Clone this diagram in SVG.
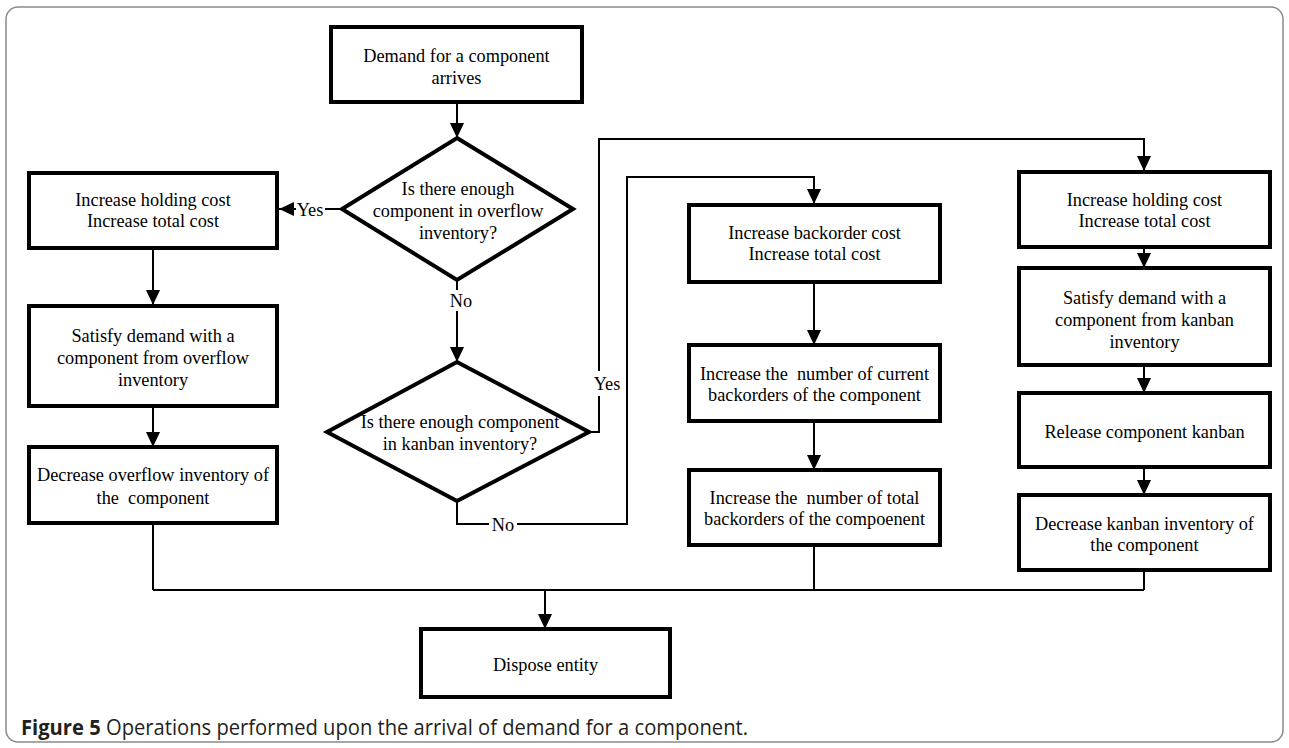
<svg xmlns="http://www.w3.org/2000/svg" width="1289" height="748" viewBox="0 0 1289 748">
<style>
.box{fill:#fff;stroke:#000;stroke-width:4}
.t{font-family:"Liberation Serif","Times New Roman",serif;font-size:19.2px;fill:#000;text-anchor:middle}
.c{fill:none;stroke:#000;stroke-width:2}
.cap{font-family:"Open Sans","Noto Sans",sans-serif;font-size:22px;fill:#231f20}
</style>
<defs>
<marker id="ah" viewBox="0 0 15 14" refX="15" refY="7" markerWidth="15" markerHeight="14" markerUnits="userSpaceOnUse" orient="auto">
<path d="M0,0 L15,7 L0,14 Z" fill="#000"/>
</marker>
</defs>
<rect x="6" y="7" width="1277" height="735" rx="12" ry="12" fill="#fff" stroke="#8a8a8a" stroke-width="1.5"/>

<g id="connectors">
<path class="c" d="M457,102 V138" marker-end="url(#ah)"/>
<path class="c" d="M342,209 H325"/>
<path class="c" d="M296,209 H279" marker-end="url(#ah)"/>
<path class="c" d="M153,248 V305" marker-end="url(#ah)"/>
<path class="c" d="M153,406 V447" marker-end="url(#ah)"/>
<path class="c" d="M153,523 V590"/>
<path class="c" d="M457,280 V290"/>
<path class="c" d="M457,311 V362" marker-end="url(#ah)"/>
<path class="c" d="M589,432 H599 V396"/>
<path class="c" d="M599,371 V139 H1144 V171" marker-end="url(#ah)"/>
<path class="c" d="M457,501 V524 H489"/>
<path class="c" d="M517,524 H627 V177 H814 V204" marker-end="url(#ah)"/>
<path class="c" d="M814,282 V345" marker-end="url(#ah)"/>
<path class="c" d="M814,421 V470" marker-end="url(#ah)"/>
<path class="c" d="M814,545 V590"/>
<path class="c" d="M1144,247 V268" marker-end="url(#ah)"/>
<path class="c" d="M1144,365 V393" marker-end="url(#ah)"/>
<path class="c" d="M1144,467 V495" marker-end="url(#ah)"/>
<path class="c" d="M1144,570 V590"/>
<path class="c" d="M153,590 H1144"/>
<path class="c" d="M545,590 V629" marker-end="url(#ah)"/>
<text class="t" x="310" y="216" transform="matrix(0.953 0 0 1 14.6 0)">Yes</text>
<text class="t" x="461" y="307" transform="matrix(0.953 0 0 1 21.7 0)">No</text>
<text class="t" x="607" y="390" transform="matrix(0.953 0 0 1 28.5 0)">Yes</text>
<text class="t" x="503" y="531" transform="matrix(0.953 0 0 1 23.6 0)">No</text>
</g>

<g id="start">
<rect class="box" x="331" y="27" width="251" height="75"/>
<g transform="matrix(0.953 0 0 1 21.46 0)">
<text class="t" x="456.5" y="62">Demand for a component</text>
<text class="t" x="456.5" y="84">arrives</text>
</g>
</g>

<g id="dec1">
<polygon class="box" points="457,138 573,209 457,280 342,209"/>
<g transform="matrix(0.953 0 0 1 21.53 0)">
<text class="t" x="458" y="195">Is there enough</text>
<text class="t" x="458" y="217">component in overflow</text>
<text class="t" x="458" y="239">inventory?</text>
</g>
</g>

<g id="dec2">
<polygon class="box" points="457,362 589,432 457,501 327,432"/>
<g transform="matrix(0.953 0 0 1 21.62 0)">
<text class="t" x="460" y="428">Is there enough component</text>
<text class="t" x="460" y="450">in kanban inventory?</text>
</g>
</g>

<g id="left1">
<rect class="box" x="29" y="173" width="248" height="75"/>
<g transform="matrix(0.953 0 0 1 7.19 0)">
<text class="t" x="153" y="206">Increase holding cost</text>
<text class="t" x="153" y="227">Increase total cost</text>
</g>
</g>

<g id="left2">
<rect class="box" x="29" y="306" width="248" height="100"/>
<g transform="matrix(0.953 0 0 1 7.19 0)">
<text class="t" x="153" y="342">Satisfy demand with a</text>
<text class="t" x="153" y="364">component from overflow</text>
<text class="t" x="153" y="386">inventory</text>
</g>
</g>

<g id="left3">
<rect class="box" x="29" y="447" width="248" height="76"/>
<g transform="matrix(0.953 0 0 1 7.19 0)">
<text class="t" x="153" y="481">Decrease overflow inventory of</text>
<text class="t" x="153" y="504" xml:space="preserve">the  component</text>
</g>
</g>

<g id="mid1">
<rect class="box" x="689" y="205" width="251" height="77"/>
<g transform="matrix(0.953 0 0 1 38.28 0)">
<text class="t" x="814.5" y="239">Increase backorder cost</text>
<text class="t" x="814.5" y="260">Increase total cost</text>
</g>
</g>

<g id="mid2">
<rect class="box" x="689" y="345" width="251" height="76"/>
<g transform="matrix(0.953 0 0 1 38.28 0)">
<text class="t" x="814.5" y="380" xml:space="preserve">Increase the  number of current</text>
<text class="t" x="814.5" y="401">backorders of the component</text>
</g>
</g>

<g id="mid3">
<rect class="box" x="689" y="470" width="251" height="75"/>
<g transform="matrix(0.953 0 0 1 38.28 0)">
<text class="t" x="814.5" y="504" xml:space="preserve">Increase the  number of total</text>
<text class="t" x="814.5" y="525">backorders of the compoenent</text>
</g>
</g>

<g id="right1">
<rect class="box" x="1019" y="172" width="251" height="75"/>
<g transform="matrix(0.953 0 0 1 53.79 0)">
<text class="t" x="1144.5" y="206">Increase holding cost</text>
<text class="t" x="1144.5" y="227">Increase total cost</text>
</g>
</g>

<g id="right2">
<rect class="box" x="1019" y="268" width="251" height="97"/>
<g transform="matrix(0.953 0 0 1 53.79 0)">
<text class="t" x="1144.5" y="304">Satisfy demand with a</text>
<text class="t" x="1144.5" y="326">component from kanban</text>
<text class="t" x="1144.5" y="348">inventory</text>
</g>
</g>

<g id="right3">
<rect class="box" x="1019" y="393" width="251" height="74"/>
<g transform="matrix(0.953 0 0 1 53.79 0)">
<text class="t" x="1144.5" y="438">Release component kanban</text>
</g>
</g>

<g id="right4">
<rect class="box" x="1019" y="495" width="251" height="75"/>
<g transform="matrix(0.953 0 0 1 53.79 0)">
<text class="t" x="1144.5" y="530">Decrease kanban inventory of</text>
<text class="t" x="1144.5" y="551">the component</text>
</g>
</g>

<g id="dispose">
<rect class="box" x="421" y="629" width="249" height="68"/>
<g transform="matrix(0.953 0 0 1 25.64 0)">
<text class="t" x="545.5" y="671">Dispose entity</text>
</g>
</g>

<text class="cap" x="21" y="735" textLength="727" lengthAdjust="spacingAndGlyphs"><tspan font-weight="bold">Figure 5</tspan> Operations performed upon the arrival of demand for a component.</text>
</svg>
